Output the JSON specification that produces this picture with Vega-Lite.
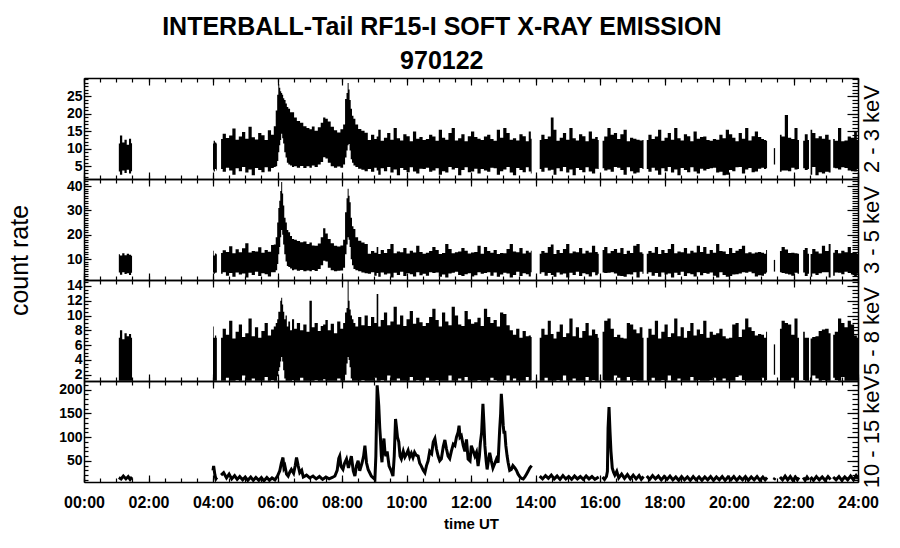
{
"$schema": "https://vega.github.io/schema/vega-lite/v6.json",
"padding": {"left": 7, "top": 15, "right": 10, "bottom": 10},
"background": "white",
"title": {"text": ["INTERBALL-Tail RF15-I SOFT X-RAY EMISSION", "970122"], "font": "Liberation Sans", "fontSize": 25, "fontWeight": "bold", "color": "#000", "lineHeight": 34, "anchor": "middle", "dx": -3, "offset": 3},
"config": {
  "view": {"stroke": null},
  "axis": {"grid": false, "domainColor": "#000", "tickColor": "#000", "domainWidth": 1.5, "tickWidth": 1.2, "labelColor": "#000", "labelFont": "Liberation Sans", "labelFontWeight": "bold", "labelFontSize": 14, "labelFlush": false, "labelOverlap": false, "titleColor": "#000", "titleFont": "Liberation Sans", "titleFontWeight": "normal"}
},
"datasets": {
"soft": [
{"t":1.08,"s":1,"a0":3.5,"a1":11.5,"b0":4.5,"b1":12,"c0":1.2,"c1":7},
{"t":1.15,"s":1,"a0":2.6,"a1":13.8,"b0":3.6,"b1":11.5,"c0":1.2,"c1":8},
{"t":1.22,"s":1,"a0":3.8,"a1":11.8,"b0":4.6,"b1":12.4,"c0":1.2,"c1":6.8},
{"t":1.29,"s":1,"a0":3.1,"a1":12.6,"b0":3.9,"b1":11.6,"c0":1.2,"c1":7.6},
{"t":1.36,"s":1,"a0":4,"a1":11.2,"b0":4.2,"b1":12.2,"c0":1.2,"c1":7.2},
{"t":1.43,"s":1,"a0":2.9,"a1":12.9,"b0":3.5,"b1":11.8,"c0":1.2,"c1":7.5},
{"t":1.49,"s":1,"a0":3.6,"a1":11.6,"b0":4.4,"b1":11.4,"c0":1.2,"c1":7},
{"t":4.0,"s":2,"a0":4,"a1":11.5,"b0":4.5,"b1":13.5,"c0":1.2,"c1":8.5},
{"t":4.04,"s":2,"a0":3.5,"a1":12.3,"b0":4,"b1":11.5,"c0":1.2,"c1":7},
{"t":4.08,"s":2,"a0":4.2,"a1":11.8,"b0":4.4,"b1":12.3,"c0":1.2,"c1":7.3},
{"t":4.12,"s":2,"a0":3.8,"a1":11.5,"b0":4.5,"b1":12,"c0":1.2,"c1":7},
{"t":4.25,"s":3,"a0":4.2,"a1":12.8,"b0":4,"b1":12.5,"c0":1.2,"c1":7},
{"t":4.35,"s":3,"a0":3.4,"a1":14.3,"b0":4.6,"b1":13.7,"c0":1.2,"c1":8.2},
{"t":4.45,"s":3,"a0":4.6,"a1":13.1,"b0":3.2,"b1":12.9,"c0":1.6,"c1":7.4},
{"t":4.55,"s":3,"a0":3.8,"a1":13.8,"b0":4.3,"b1":15.3,"c0":1.2,"c1":9.3},
{"t":4.65,"s":3,"a0":2.6,"a1":15.8,"b0":2.8,"b1":12.4,"c0":1.2,"c1":6.9},
{"t":4.75,"s":3,"a0":4.4,"a1":12.6,"b0":4.5,"b1":14.1,"c0":1.3,"c1":7.8},
{"t":4.85,"s":3,"a0":3.6,"a1":13.5,"b0":3.7,"b1":12.8,"c0":1.2,"c1":8.8},
{"t":4.95,"s":3,"a0":4.8,"a1":14.8,"b0":4.1,"b1":14.5,"c0":1.9,"c1":7.1},
{"t":5.05,"s":3,"a0":3.2,"a1":12.9,"b0":2.5,"b1":16.5,"c0":1.2,"c1":7.6},
{"t":5.15,"s":3,"a0":4.1,"a1":16.3,"b0":4.4,"b1":12.7,"c0":1.2,"c1":9.6},
{"t":5.25,"s":3,"a0":2.4,"a1":13.3,"b0":3.5,"b1":13.4,"c0":1.5,"c1":7.2},
{"t":5.35,"s":3,"a0":4.5,"a1":12.7,"b0":4.8,"b1":13.1,"c0":1.2,"c1":8.4},
{"t":5.45,"s":3,"a0":3.9,"a1":14.5,"b0":3.1,"b1":14.9,"c0":1.2,"c1":7},
{"t":5.55,"s":3,"a0":3.3,"a1":13.9,"b0":4.2,"b1":12.6,"c0":1.2,"c1":7.9},
{"t":5.65,"s":3,"a0":4.7,"a1":12.5,"b0":3.8,"b1":13.8,"c0":1.7,"c1":9},
{"t":5.75,"s":3,"a0":3.5,"a1":15.3,"b0":2.9,"b1":13,"c0":1.2,"c1":7.3},
{"t":5.85,"s":3,"a0":4.5,"a1":14,"b0":4.6,"b1":15.8,"c0":1.3,"c1":8.1},
{"t":5.92,"s":3,"a0":4.8,"a1":16.5,"b0":4.6,"b1":16,"c0":1.2,"c1":8.5},
{"t":5.97,"s":3,"a0":5,"a1":21,"b0":5.5,"b1":19,"c0":1.2,"c1":9},
{"t":6.01,"s":3,"a0":6.5,"a1":25.5,"b0":8,"b1":25,"c0":1.8,"c1":9.5},
{"t":6.04,"s":3,"a0":9,"a1":28.5,"b0":12,"b1":31,"c0":2.5,"c1":10.5},
{"t":6.07,"s":3,"a0":11,"a1":27.5,"b0":15,"b1":34,"c0":3,"c1":10.5},
{"t":6.1,"s":3,"a0":12.5,"a1":26.5,"b0":19,"b1":38,"c0":3.8,"c1":12},
{"t":6.13,"s":3,"a0":14.3,"a1":26,"b0":22,"b1":41.7,"c0":4.4,"c1":12.4},
{"t":6.16,"s":3,"a0":13,"a1":25.5,"b0":20,"b1":37,"c0":3.8,"c1":11.5},
{"t":6.19,"s":3,"a0":11.5,"a1":24.5,"b0":16,"b1":32,"c0":2.6,"c1":10.5},
{"t":6.23,"s":3,"a0":9,"a1":24,"b0":12,"b1":27,"c0":1.5,"c1":9.5},
{"t":6.27,"s":3,"a0":7.5,"a1":23,"b0":9,"b1":25,"c0":1.2,"c1":10},
{"t":6.31,"s":3,"a0":6,"a1":22,"b0":7.2,"b1":22,"c0":1.2,"c1":8.5},
{"t":6.36,"s":3,"a0":5.5,"a1":21.5,"b0":6.8,"b1":21,"c0":1.2,"c1":9.2},
{"t":6.42,"s":3,"a0":5.2,"a1":20.5,"b0":6.2,"b1":19.5,"c0":1.2,"c1":8},
{"t":6.48,"s":3,"a0":4.8,"a1":20.5,"b0":5.5,"b1":18.3,"c0":1.3,"c1":9.5},
{"t":6.55,"s":3,"a0":5,"a1":19,"b0":5.8,"b1":18,"c0":1.2,"c1":8.2},
{"t":6.65,"s":3,"a0":4.6,"a1":18,"b0":5.2,"b1":17.5,"c0":1.2,"c1":9},
{"t":6.75,"s":3,"a0":5.1,"a1":17.5,"b0":5.6,"b1":16.9,"c0":1.6,"c1":8},
{"t":6.85,"s":3,"a0":4.5,"a1":16.5,"b0":5,"b1":17.2,"c0":1.2,"c1":8.8},
{"t":6.95,"s":3,"a0":5,"a1":16,"b0":5.4,"b1":16.2,"c0":1.2,"c1":7.8},
{"t":7.03,"s":3,"a0":4.6,"a1":15.6,"b0":5,"b1":16.8,"c0":1.2,"c1":12},
{"t":7.1,"s":3,"a0":5.2,"a1":16.4,"b0":5.6,"b1":15.6,"c0":1.2,"c1":8.4},
{"t":7.2,"s":3,"a0":4.8,"a1":15.2,"b0":5.1,"b1":15.5,"c0":1.3,"c1":9},
{"t":7.3,"s":3,"a0":5.5,"a1":16.2,"b0":6,"b1":16.4,"c0":1.2,"c1":7.9},
{"t":7.38,"s":3,"a0":6.2,"a1":17.5,"b0":7.5,"b1":19,"c0":1.2,"c1":8.6},
{"t":7.45,"s":3,"a0":7.6,"a1":19,"b0":9.3,"b1":22.7,"c0":1.4,"c1":8.8},
{"t":7.52,"s":3,"a0":7.2,"a1":18.6,"b0":9,"b1":20.5,"c0":1.2,"c1":9.4},
{"t":7.6,"s":3,"a0":6,"a1":17.8,"b0":6.5,"b1":18.3,"c0":1.2,"c1":8},
{"t":7.7,"s":3,"a0":5,"a1":16.3,"b0":5.5,"b1":16.5,"c0":1.2,"c1":8.9},
{"t":7.8,"s":3,"a0":4.6,"a1":15.3,"b0":5,"b1":15.5,"c0":1.2,"c1":7.6},
{"t":7.9,"s":3,"a0":4.9,"a1":14.7,"b0":5.2,"b1":15.2,"c0":1.5,"c1":9.2},
{"t":8.0,"s":3,"a0":4.6,"a1":15.6,"b0":5.3,"b1":15.6,"c0":1.2,"c1":8.2},
{"t":8.07,"s":3,"a0":5.5,"a1":17,"b0":6.5,"b1":18,"c0":1.2,"c1":9},
{"t":8.12,"s":3,"a0":7.5,"a1":24.3,"b0":12,"b1":29.3,"c0":2,"c1":10.4},
{"t":8.16,"s":3,"a0":9.5,"a1":26,"b0":16,"b1":35,"c0":3.5,"c1":11},
{"t":8.19,"s":3,"a0":11,"a1":28.9,"b0":19,"b1":38.9,"c0":4.4,"c1":14.7},
{"t":8.22,"s":3,"a0":11.4,"a1":27,"b0":18,"b1":36,"c0":4,"c1":12},
{"t":8.25,"s":3,"a0":9.5,"a1":24,"b0":15,"b1":33.4,"c0":3,"c1":10.8},
{"t":8.29,"s":3,"a0":7,"a1":21.5,"b0":10,"b1":27,"c0":1.5,"c1":10},
{"t":8.33,"s":3,"a0":6,"a1":19.5,"b0":7.5,"b1":23.5,"c0":1.2,"c1":9.5},
{"t":8.38,"s":3,"a0":5.2,"a1":18.6,"b0":6,"b1":22.4,"c0":1.2,"c1":9},
{"t":8.45,"s":3,"a0":4.8,"a1":17,"b0":5.5,"b1":19,"c0":1.2,"c1":8.5},
{"t":8.55,"s":3,"a0":4.3,"a1":15.7,"b0":5,"b1":17.6,"c0":1.2,"c1":9.8},
{"t":8.65,"s":3,"a0":4,"a1":15.2,"b0":4.5,"b1":16.8,"c0":1.3,"c1":8.7},
{"t":8.75,"s":3,"a0":3.6,"a1":14.6,"b0":4.2,"b1":16.2,"c0":1.2,"c1":10},
{"t":8.85,"s":3,"a0":4.2,"a1":12.5,"b0":4,"b1":12.2,"c0":1.2,"c1":8.6},
{"t":8.95,"s":3,"a0":3.4,"a1":14,"b0":4.6,"b1":13.4,"c0":1.2,"c1":9.8},
{"t":9.05,"s":3,"a0":4.6,"a1":12.8,"b0":3.2,"b1":12.6,"c0":1.6,"c1":9},
{"t":9.1,"s":3,"a0":3.8,"a1":13.5,"b0":4.3,"b1":15,"c0":1.2,"c1":12.9},
{"t":9.15,"s":3,"a0":2.6,"a1":15.5,"b0":2.8,"b1":12.1,"c0":1.2,"c1":8.5},
{"t":9.25,"s":3,"a0":4.4,"a1":12.3,"b0":4.5,"b1":13.8,"c0":1.3,"c1":9.4},
{"t":9.35,"s":3,"a0":3.6,"a1":13.2,"b0":3.7,"b1":12.5,"c0":1.2,"c1":10.4},
{"t":9.45,"s":3,"a0":4.8,"a1":14.5,"b0":4.1,"b1":14.2,"c0":1.9,"c1":8.7},
{"t":9.55,"s":3,"a0":3.2,"a1":12.6,"b0":2.5,"b1":16.2,"c0":1.2,"c1":9.2},
{"t":9.65,"s":3,"a0":4.1,"a1":16,"b0":4.4,"b1":12.4,"c0":1.2,"c1":11.2},
{"t":9.75,"s":3,"a0":2.4,"a1":13,"b0":3.5,"b1":13.1,"c0":1.5,"c1":8.8},
{"t":9.85,"s":3,"a0":4.5,"a1":12.4,"b0":4.8,"b1":12.8,"c0":1.2,"c1":10},
{"t":9.95,"s":3,"a0":3.9,"a1":14.2,"b0":3.1,"b1":14.6,"c0":1.2,"c1":8.6},
{"t":10.05,"s":3,"a0":3.3,"a1":13.6,"b0":4.2,"b1":12.3,"c0":1.2,"c1":9.5},
{"t":10.15,"s":3,"a0":4.7,"a1":12.2,"b0":3.8,"b1":13.5,"c0":1.7,"c1":10.6},
{"t":10.25,"s":3,"a0":3.5,"a1":15,"b0":2.9,"b1":12.7,"c0":1.2,"c1":8.9},
{"t":10.35,"s":3,"a0":2.9,"a1":12.9,"b0":4.6,"b1":15.5,"c0":1.3,"c1":9.7},
{"t":10.45,"s":3,"a0":4.3,"a1":13.4,"b0":3.4,"b1":12.9,"c0":1.2,"c1":9.1},
{"t":10.55,"s":3,"a0":4.2,"a1":12.5,"b0":4,"b1":12.2,"c0":1.2,"c1":8.6},
{"t":10.65,"s":3,"a0":4.6,"a1":12.8,"b0":3.2,"b1":12.6,"c0":1.6,"c1":9},
{"t":10.75,"s":3,"a0":3.4,"a1":14,"b0":4.6,"b1":13.4,"c0":1.2,"c1":9.8},
{"t":10.85,"s":3,"a0":3.8,"a1":13.5,"b0":4.3,"b1":15,"c0":1.2,"c1":10.9},
{"t":10.95,"s":3,"a0":4.4,"a1":12.3,"b0":4.5,"b1":13.8,"c0":1.3,"c1":9.4},
{"t":11.05,"s":3,"a0":2.6,"a1":15.5,"b0":2.8,"b1":12.1,"c0":1.2,"c1":8.5},
{"t":11.15,"s":3,"a0":3.6,"a1":13.2,"b0":3.7,"b1":12.5,"c0":1.2,"c1":10.4},
{"t":11.25,"s":3,"a0":3.2,"a1":12.6,"b0":2.5,"b1":16.2,"c0":1.2,"c1":9.2},
{"t":11.35,"s":3,"a0":4.8,"a1":14.5,"b0":4.1,"b1":14.2,"c0":1.9,"c1":8.7},
{"t":11.45,"s":3,"a0":4.1,"a1":16,"b0":4.4,"b1":12.4,"c0":1.2,"c1":11.2},
{"t":11.55,"s":3,"a0":4.5,"a1":12.4,"b0":4.8,"b1":12.8,"c0":1.2,"c1":10},
{"t":11.65,"s":3,"a0":2.4,"a1":13,"b0":3.5,"b1":13.1,"c0":1.5,"c1":8.8},
{"t":11.75,"s":3,"a0":3.9,"a1":14.2,"b0":3.1,"b1":14.6,"c0":1.2,"c1":8.6},
{"t":11.85,"s":3,"a0":4.7,"a1":12.2,"b0":3.8,"b1":13.5,"c0":1.7,"c1":10.6},
{"t":11.95,"s":3,"a0":3.3,"a1":13.6,"b0":4.2,"b1":12.3,"c0":1.2,"c1":9.5},
{"t":12.05,"s":3,"a0":3.5,"a1":15,"b0":2.9,"b1":12.7,"c0":1.2,"c1":8.9},
{"t":12.15,"s":3,"a0":4.3,"a1":13.4,"b0":3.4,"b1":12.9,"c0":1.2,"c1":9.1},
{"t":12.25,"s":3,"a0":2.9,"a1":12.9,"b0":4.6,"b1":15.5,"c0":1.3,"c1":9.7},
{"t":12.35,"s":3,"a0":4.2,"a1":12.5,"b0":4,"b1":12.2,"c0":1.2,"c1":8.6},
{"t":12.45,"s":3,"a0":3.8,"a1":13.5,"b0":4.3,"b1":15,"c0":1.2,"c1":10.9},
{"t":12.55,"s":3,"a0":3.4,"a1":14,"b0":4.6,"b1":13.4,"c0":1.2,"c1":9.8},
{"t":12.65,"s":3,"a0":4.6,"a1":12.8,"b0":3.2,"b1":12.6,"c0":1.6,"c1":9},
{"t":12.75,"s":3,"a0":4.4,"a1":12.3,"b0":4.5,"b1":13.8,"c0":1.3,"c1":9.4},
{"t":12.85,"s":3,"a0":2.6,"a1":15.5,"b0":2.8,"b1":12.1,"c0":1.2,"c1":8.5},
{"t":12.95,"s":3,"a0":3.6,"a1":13.2,"b0":3.7,"b1":12.5,"c0":1.2,"c1":10.4},
{"t":13.05,"s":3,"a0":4.1,"a1":16,"b0":4.4,"b1":12.4,"c0":1.2,"c1":10.2},
{"t":13.15,"s":3,"a0":4.8,"a1":14.5,"b0":4.1,"b1":14.2,"c0":1.9,"c1":8.7},
{"t":13.25,"s":3,"a0":3.2,"a1":12.6,"b0":2.5,"b1":16.2,"c0":1.2,"c1":8},
{"t":13.35,"s":3,"a0":2.4,"a1":13,"b0":3.5,"b1":13.1,"c0":1.5,"c1":7.4},
{"t":13.45,"s":3,"a0":4.5,"a1":12.4,"b0":4.8,"b1":12.8,"c0":1.2,"c1":8.2},
{"t":13.55,"s":3,"a0":3.9,"a1":14.2,"b0":3.1,"b1":14.6,"c0":1.2,"c1":7},
{"t":13.65,"s":3,"a0":3.3,"a1":13.6,"b0":4.2,"b1":12.3,"c0":1.2,"c1":7.9},
{"t":13.75,"s":3,"a0":4.7,"a1":12.2,"b0":3.8,"b1":13.5,"c0":1.7,"c1":7.2},
{"t":13.83,"s":3,"a0":3.5,"a1":15,"b0":2.9,"b1":12.7,"c0":1.2,"c1":7.3},
{"t":13.88,"s":3,"a0":2.9,"a1":12.9,"b0":4.6,"b1":13.5,"c0":1.3,"c1":7.1},
{"t":14.13,"s":4,"a0":4.2,"a1":12.5,"b0":4,"b1":12.2,"c0":1.2,"c1":7},
{"t":14.23,"s":4,"a0":3.4,"a1":14,"b0":4.6,"b1":13.4,"c0":1.2,"c1":8.2},
{"t":14.33,"s":4,"a0":4.6,"a1":12.8,"b0":3.2,"b1":12.6,"c0":1.6,"c1":7.4},
{"t":14.43,"s":4,"a0":3.8,"a1":13.5,"b0":4.3,"b1":15,"c0":1.2,"c1":9.3},
{"t":14.52,"s":4,"a0":4,"a1":19,"b0":3.5,"b1":16,"c0":1.2,"c1":7.5},
{"t":14.6,"s":4,"a0":2.6,"a1":15.5,"b0":2.8,"b1":12.1,"c0":1.2,"c1":6.9},
{"t":14.7,"s":4,"a0":4.4,"a1":12.3,"b0":4.5,"b1":13.8,"c0":1.3,"c1":7.8},
{"t":14.8,"s":4,"a0":3.6,"a1":13.2,"b0":3.7,"b1":12.5,"c0":1.2,"c1":8.8},
{"t":14.9,"s":4,"a0":4.8,"a1":14.5,"b0":4.1,"b1":14.2,"c0":1.9,"c1":7.1},
{"t":15.0,"s":4,"a0":3.2,"a1":12.6,"b0":2.5,"b1":16.2,"c0":1.2,"c1":7.6},
{"t":15.1,"s":4,"a0":4.1,"a1":16,"b0":4.4,"b1":12.4,"c0":1.2,"c1":9.6},
{"t":15.2,"s":4,"a0":2.4,"a1":13,"b0":3.5,"b1":13.1,"c0":1.5,"c1":7.2},
{"t":15.3,"s":4,"a0":4.5,"a1":12.4,"b0":4.8,"b1":12.8,"c0":1.2,"c1":8.4},
{"t":15.4,"s":4,"a0":3.9,"a1":14.2,"b0":3.1,"b1":14.6,"c0":1.2,"c1":7},
{"t":15.5,"s":4,"a0":3.3,"a1":13.6,"b0":4.2,"b1":12.3,"c0":1.2,"c1":7.9},
{"t":15.6,"s":4,"a0":4.7,"a1":12.2,"b0":3.8,"b1":13.5,"c0":1.7,"c1":9},
{"t":15.7,"s":4,"a0":3.5,"a1":15,"b0":2.9,"b1":12.7,"c0":1.2,"c1":7.3},
{"t":15.8,"s":4,"a0":2.9,"a1":12.9,"b0":4.6,"b1":15.5,"c0":1.3,"c1":8.1},
{"t":15.9,"s":4,"a0":4.3,"a1":13.4,"b0":3.4,"b1":12.9,"c0":1.2,"c1":7.5},
{"t":15.96,"s":4,"a0":4.2,"a1":12.5,"b0":4,"b1":12.2,"c0":1.2,"c1":7},
{"t":16.08,"s":5,"a0":4.4,"a1":12.3,"b0":4.5,"b1":13.8,"c0":1.3,"c1":7.8},
{"t":16.18,"s":5,"a0":3.8,"a1":13.5,"b0":4.3,"b1":15,"c0":1.2,"c1":9.3},
{"t":16.28,"s":5,"a0":4.1,"a1":16,"b0":4.4,"b1":12.4,"c0":1.2,"c1":9.6},
{"t":16.38,"s":5,"a0":3.4,"a1":14,"b0":4.6,"b1":13.4,"c0":1.2,"c1":8.2},
{"t":16.48,"s":5,"a0":4.8,"a1":14.5,"b0":4.1,"b1":14.2,"c0":1.9,"c1":7.1},
{"t":16.58,"s":5,"a0":4.6,"a1":12.8,"b0":3.2,"b1":12.6,"c0":1.6,"c1":7.4},
{"t":16.68,"s":5,"a0":3.9,"a1":14.2,"b0":3.1,"b1":14.6,"c0":1.2,"c1":7},
{"t":16.78,"s":5,"a0":2.6,"a1":15.5,"b0":2.8,"b1":12.1,"c0":1.2,"c1":6.9},
{"t":16.88,"s":5,"a0":4.7,"a1":12.2,"b0":3.8,"b1":13.5,"c0":1.7,"c1":9},
{"t":16.98,"s":5,"a0":3.6,"a1":13.2,"b0":3.7,"b1":12.5,"c0":1.2,"c1":8.8},
{"t":17.08,"s":5,"a0":2.9,"a1":12.9,"b0":4.6,"b1":15.5,"c0":1.3,"c1":8.1},
{"t":17.18,"s":5,"a0":3.2,"a1":12.6,"b0":2.5,"b1":16.2,"c0":1.2,"c1":7.6},
{"t":17.28,"s":5,"a0":4.5,"a1":12.4,"b0":4.8,"b1":12.8,"c0":1.2,"c1":8.4},
{"t":17.35,"s":5,"a0":4.2,"a1":12.5,"b0":4,"b1":12.2,"c0":1.2,"c1":7},
{"t":17.45,"s":6,"a0":4.2,"a1":12.5,"b0":4,"b1":12.2,"c0":1.2,"c1":7},
{"t":17.55,"s":6,"a0":3.4,"a1":14,"b0":4.6,"b1":13.4,"c0":1.2,"c1":8.2},
{"t":17.65,"s":6,"a0":4.6,"a1":12.8,"b0":3.2,"b1":12.6,"c0":1.6,"c1":7.4},
{"t":17.75,"s":6,"a0":3.8,"a1":13.5,"b0":4.3,"b1":15,"c0":1.2,"c1":9.3},
{"t":17.85,"s":6,"a0":2.6,"a1":15.5,"b0":2.8,"b1":12.1,"c0":1.2,"c1":6.9},
{"t":17.95,"s":6,"a0":4.4,"a1":12.3,"b0":4.5,"b1":13.8,"c0":1.3,"c1":7.8},
{"t":18.05,"s":6,"a0":3.6,"a1":13.2,"b0":3.7,"b1":12.5,"c0":1.2,"c1":8.8},
{"t":18.15,"s":6,"a0":4.8,"a1":14.5,"b0":4.1,"b1":14.2,"c0":1.9,"c1":7.1},
{"t":18.25,"s":6,"a0":3.2,"a1":12.6,"b0":2.5,"b1":16.2,"c0":1.2,"c1":7.6},
{"t":18.35,"s":6,"a0":4.1,"a1":16,"b0":4.4,"b1":12.4,"c0":1.2,"c1":9.6},
{"t":18.45,"s":6,"a0":2.4,"a1":13,"b0":3.5,"b1":13.1,"c0":1.5,"c1":7.2},
{"t":18.55,"s":6,"a0":4.5,"a1":12.4,"b0":4.8,"b1":12.8,"c0":1.2,"c1":8.4},
{"t":18.65,"s":6,"a0":3.9,"a1":14.2,"b0":3.1,"b1":14.6,"c0":1.2,"c1":7},
{"t":18.75,"s":6,"a0":3.3,"a1":13.6,"b0":4.2,"b1":12.3,"c0":1.2,"c1":7.9},
{"t":18.85,"s":6,"a0":4.7,"a1":12.2,"b0":3.8,"b1":13.5,"c0":1.7,"c1":9},
{"t":18.95,"s":6,"a0":3.5,"a1":15,"b0":2.9,"b1":12.7,"c0":1.2,"c1":7.3},
{"t":19.05,"s":6,"a0":2.9,"a1":12.9,"b0":4.6,"b1":15.5,"c0":1.3,"c1":8.1},
{"t":19.15,"s":6,"a0":4.3,"a1":13.4,"b0":3.4,"b1":12.9,"c0":1.2,"c1":7.5},
{"t":19.25,"s":6,"a0":3.8,"a1":13.5,"b0":4.3,"b1":15,"c0":1.2,"c1":9.3},
{"t":19.35,"s":6,"a0":4.2,"a1":12.5,"b0":4,"b1":12.2,"c0":1.2,"c1":7},
{"t":19.45,"s":6,"a0":4.4,"a1":12.3,"b0":4.5,"b1":13.8,"c0":1.3,"c1":7.8},
{"t":19.55,"s":6,"a0":4.6,"a1":12.8,"b0":3.2,"b1":12.6,"c0":1.6,"c1":7.4},
{"t":19.65,"s":6,"a0":3.2,"a1":12.6,"b0":2.5,"b1":16.2,"c0":1.2,"c1":7.6},
{"t":19.75,"s":6,"a0":3.4,"a1":14,"b0":4.6,"b1":13.4,"c0":1.2,"c1":8.2},
{"t":19.85,"s":6,"a0":2.4,"a1":13,"b0":3.5,"b1":13.1,"c0":1.5,"c1":7.2},
{"t":19.95,"s":6,"a0":2.6,"a1":15.5,"b0":2.8,"b1":12.1,"c0":1.2,"c1":6.9},
{"t":20.05,"s":6,"a0":3.9,"a1":14.2,"b0":3.1,"b1":14.6,"c0":1.2,"c1":7},
{"t":20.15,"s":6,"a0":3.6,"a1":13.2,"b0":3.7,"b1":12.5,"c0":1.2,"c1":8.8},
{"t":20.25,"s":6,"a0":4.7,"a1":12.2,"b0":3.8,"b1":13.5,"c0":1.7,"c1":9},
{"t":20.35,"s":6,"a0":4.8,"a1":14.5,"b0":4.1,"b1":14.2,"c0":1.9,"c1":7.1},
{"t":20.45,"s":6,"a0":2.9,"a1":12.9,"b0":4.6,"b1":15.5,"c0":1.3,"c1":8.1},
{"t":20.55,"s":6,"a0":4.1,"a1":16,"b0":4.4,"b1":12.4,"c0":1.2,"c1":9.6},
{"t":20.65,"s":6,"a0":4.5,"a1":12.4,"b0":4.8,"b1":12.8,"c0":1.2,"c1":8.4},
{"t":20.75,"s":6,"a0":3.3,"a1":13.6,"b0":4.2,"b1":12.3,"c0":1.2,"c1":7.9},
{"t":20.85,"s":6,"a0":3.5,"a1":15,"b0":2.9,"b1":12.7,"c0":1.2,"c1":7.3},
{"t":20.95,"s":6,"a0":4.3,"a1":13.4,"b0":3.4,"b1":12.9,"c0":1.2,"c1":7.5},
{"t":21.05,"s":6,"a0":4.6,"a1":12.8,"b0":3.2,"b1":12.6,"c0":1.6,"c1":7.4},
{"t":21.12,"s":6,"a0":4.2,"a1":12.5,"b0":4,"b1":12.2,"c0":1.2,"c1":7},
{"t":21.18,"s":6,"a0":4.4,"a1":12.3,"b0":4.5,"b1":13.8,"c0":1.3,"c1":7.8},
{"t":21.39,"s":7,"a0":5.5,"a1":10.2,"b0":4.9,"b1":9.7,"c0":2,"c1":6.1},
{"t":21.43,"s":7,"a0":5.5,"a1":10.2,"b0":4.9,"b1":9.7,"c0":2,"c1":6.1},
{"t":21.58,"s":8,"a0":3.4,"a1":14,"b0":4.6,"b1":13.4,"c0":1.2,"c1":8.2},
{"t":21.68,"s":8,"a0":3.8,"a1":13.5,"b0":4.3,"b1":15,"c0":1.2,"c1":9.3},
{"t":21.78,"s":8,"a0":3.8,"a1":19.7,"b0":4,"b1":14,"c0":1.2,"c1":9},
{"t":21.88,"s":8,"a0":3.6,"a1":13.2,"b0":3.7,"b1":12.5,"c0":1.2,"c1":8.8},
{"t":21.98,"s":8,"a0":4.6,"a1":12.8,"b0":3.2,"b1":12.6,"c0":1.6,"c1":7.4},
{"t":22.08,"s":8,"a0":4.1,"a1":16,"b0":4.4,"b1":12.4,"c0":1.2,"c1":9.6},
{"t":22.17,"s":8,"a0":4.2,"a1":12.5,"b0":4,"b1":12.2,"c0":1.2,"c1":7},
{"t":22.3,"s":9,"a0":4.4,"a1":12.3,"b0":4.5,"b1":13.8,"c0":1.3,"c1":7.8},
{"t":22.4,"s":9,"a0":3.9,"a1":14.2,"b0":3.1,"b1":14.6,"c0":1.2,"c1":7},
{"t":22.48,"s":9,"a0":4.2,"a1":12.5,"b0":4,"b1":12.2,"c0":1.2,"c1":7},
{"t":22.53,"s":10,"a0":2.6,"a1":15.5,"b0":2.8,"b1":12.1,"c0":1.2,"c1":6.9},
{"t":22.63,"s":10,"a0":4.8,"a1":14.5,"b0":4.1,"b1":14.2,"c0":1.9,"c1":7.1},
{"t":22.73,"s":10,"a0":2.4,"a1":13,"b0":3.5,"b1":13.1,"c0":1.5,"c1":7.2},
{"t":22.83,"s":10,"a0":3.3,"a1":13.6,"b0":4.2,"b1":12.3,"c0":1.2,"c1":7.9},
{"t":22.93,"s":10,"a0":2.9,"a1":12.9,"b0":4.6,"b1":15.5,"c0":1.3,"c1":8.1},
{"t":23.03,"s":10,"a0":3.4,"a1":14,"b0":4.6,"b1":13.4,"c0":1.2,"c1":8.2},
{"t":23.15,"s":10,"a0":3.2,"a1":12.6,"b0":2.5,"b1":16.2,"c0":1.2,"c1":7.6},
{"t":23.23,"s":11,"a0":4.6,"a1":12.8,"b0":3.2,"b1":12.6,"c0":1.6,"c1":7.4},
{"t":23.33,"s":11,"a0":4.4,"a1":12.3,"b0":4.5,"b1":13.8,"c0":1.3,"c1":7.8},
{"t":23.43,"s":11,"a0":4.1,"a1":16,"b0":4.4,"b1":12.4,"c0":1.2,"c1":9.6},
{"t":23.53,"s":11,"a0":4.7,"a1":12.2,"b0":3.8,"b1":13.5,"c0":1.7,"c1":9},
{"t":23.63,"s":11,"a0":4.5,"a1":12.4,"b0":4.8,"b1":12.8,"c0":1.2,"c1":8.4},
{"t":23.73,"s":11,"a0":3.8,"a1":13.5,"b0":4.3,"b1":15,"c0":1.2,"c1":9.3},
{"t":23.83,"s":11,"a0":3.6,"a1":13.2,"b0":3.7,"b1":12.5,"c0":1.2,"c1":8.8},
{"t":23.93,"s":11,"a0":3.5,"a1":15,"b0":2.9,"b1":12.7,"c0":1.2,"c1":7.3},
{"t":24.0,"s":11,"a0":4.2,"a1":12.5,"b0":4,"b1":12.2,"c0":1.2,"c1":7}
],
"hard": [
{"t":1.08,"s":1,"v":15},{"t":1.15,"s":1,"v":12},{"t":1.22,"s":1,"v":18},{"t":1.3,"s":1,"v":12},{"t":1.37,"s":1,"v":17},{"t":1.43,"s":1,"v":11},{"t":1.49,"s":1,"v":16},
{"t":4.0,"s":2,"v":30},{"t":4.02,"s":2,"v":39},{"t":4.06,"s":2,"v":20},{"t":4.09,"s":2,"v":12},{"t":4.12,"s":2,"v":15},
{"t":4.25,"s":3,"v":20},{"t":4.33,"s":3,"v":25},{"t":4.42,"s":3,"v":14},{"t":4.5,"s":3,"v":22},{"t":4.58,"s":3,"v":12},{"t":4.67,"s":3,"v":19},{"t":4.75,"s":3,"v":11},{"t":4.83,"s":3,"v":17},{"t":4.92,"s":3,"v":10},{"t":5.0,"s":3,"v":16},{"t":5.08,"s":3,"v":9},{"t":5.17,"s":3,"v":16},{"t":5.25,"s":3,"v":9},{"t":5.33,"s":3,"v":15},{"t":5.42,"s":3,"v":9},{"t":5.5,"s":3,"v":15},{"t":5.58,"s":3,"v":8},{"t":5.67,"s":3,"v":15},{"t":5.75,"s":3,"v":9},{"t":5.83,"s":3,"v":14},{"t":5.92,"s":3,"v":10},{"t":6.0,"s":3,"v":18},{"t":6.07,"s":3,"v":29},{"t":6.12,"s":3,"v":45},{"t":6.17,"s":3,"v":57},{"t":6.2,"s":3,"v":35},{"t":6.23,"s":3,"v":39},{"t":6.28,"s":3,"v":22},{"t":6.33,"s":3,"v":18},{"t":6.38,"s":3,"v":26},{"t":6.43,"s":3,"v":32},{"t":6.5,"s":3,"v":24},{"t":6.55,"s":3,"v":40},{"t":6.59,"s":3,"v":57},{"t":6.64,"s":3,"v":40},{"t":6.69,"s":3,"v":25},{"t":6.75,"s":3,"v":30},{"t":6.8,"s":3,"v":16},{"t":6.9,"s":3,"v":20},{"t":7.0,"s":3,"v":14},{"t":7.1,"s":3,"v":18},{"t":7.2,"s":3,"v":12},{"t":7.3,"s":3,"v":17},{"t":7.4,"s":3,"v":11},{"t":7.5,"s":3,"v":16},{"t":7.6,"s":3,"v":12},{"t":7.7,"s":3,"v":15},{"t":7.78,"s":3,"v":18},{"t":7.85,"s":3,"v":30},{"t":7.9,"s":3,"v":55},{"t":7.93,"s":3,"v":60},{"t":7.97,"s":3,"v":38},{"t":8.03,"s":3,"v":32},{"t":8.08,"s":3,"v":45},{"t":8.14,"s":3,"v":54},{"t":8.2,"s":3,"v":35},{"t":8.24,"s":3,"v":46},{"t":8.29,"s":3,"v":60},{"t":8.35,"s":3,"v":29},{"t":8.4,"s":3,"v":18},{"t":8.45,"s":3,"v":40},{"t":8.5,"s":3,"v":50},{"t":8.55,"s":3,"v":29},{"t":8.62,"s":3,"v":45},{"t":8.67,"s":3,"v":60},{"t":8.71,"s":3,"v":82},{"t":8.76,"s":3,"v":46},{"t":8.81,"s":3,"v":32},{"t":8.86,"s":3,"v":25},{"t":8.91,"s":3,"v":18},{"t":8.97,"s":3,"v":14},{"t":9.02,"s":3,"v":11},{"t":9.05,"s":3,"v":60},{"t":9.09,"s":3,"v":209},{"t":9.12,"s":3,"v":185},{"t":9.14,"s":3,"v":166},{"t":9.17,"s":3,"v":120},{"t":9.19,"s":3,"v":100},{"t":9.22,"s":3,"v":60},{"t":9.24,"s":3,"v":47},{"t":9.27,"s":3,"v":80},{"t":9.3,"s":3,"v":97},{"t":9.33,"s":3,"v":70},{"t":9.36,"s":3,"v":60},{"t":9.4,"s":3,"v":70},{"t":9.46,"s":3,"v":39},{"t":9.52,"s":3,"v":30},{"t":9.58,"s":3,"v":18},{"t":9.62,"s":3,"v":60},{"t":9.66,"s":3,"v":138},{"t":9.69,"s":3,"v":120},{"t":9.72,"s":3,"v":100},{"t":9.76,"s":3,"v":90},{"t":9.8,"s":3,"v":60},{"t":9.84,"s":3,"v":54},{"t":9.9,"s":3,"v":70},{"t":9.95,"s":3,"v":58},{"t":10.0,"s":3,"v":64},{"t":10.05,"s":3,"v":72},{"t":10.1,"s":3,"v":58},{"t":10.15,"s":3,"v":66},{"t":10.2,"s":3,"v":57},{"t":10.25,"s":3,"v":68},{"t":10.3,"s":3,"v":62},{"t":10.36,"s":3,"v":60},{"t":10.41,"s":3,"v":45},{"t":10.46,"s":3,"v":39},{"t":10.52,"s":3,"v":30},{"t":10.57,"s":3,"v":25},{"t":10.62,"s":3,"v":40},{"t":10.67,"s":3,"v":50},{"t":10.72,"s":3,"v":70},{"t":10.78,"s":3,"v":65},{"t":10.83,"s":3,"v":90},{"t":10.88,"s":3,"v":97},{"t":10.93,"s":3,"v":75},{"t":10.98,"s":3,"v":60},{"t":11.03,"s":3,"v":50},{"t":11.08,"s":3,"v":54},{"t":11.14,"s":3,"v":80},{"t":11.19,"s":3,"v":94},{"t":11.24,"s":3,"v":75},{"t":11.29,"s":3,"v":60},{"t":11.34,"s":3,"v":55},{"t":11.39,"s":3,"v":70},{"t":11.45,"s":3,"v":85},{"t":11.5,"s":3,"v":82},{"t":11.55,"s":3,"v":100},{"t":11.6,"s":3,"v":110},{"t":11.63,"s":3,"v":124},{"t":11.66,"s":3,"v":100},{"t":11.7,"s":3,"v":103},{"t":11.76,"s":3,"v":82},{"t":11.81,"s":3,"v":70},{"t":11.86,"s":3,"v":95},{"t":11.91,"s":3,"v":54},{"t":11.97,"s":3,"v":50},{"t":12.01,"s":3,"v":82},{"t":12.07,"s":3,"v":70},{"t":12.12,"s":3,"v":60},{"t":12.17,"s":3,"v":68},{"t":12.22,"s":3,"v":39},{"t":12.26,"s":3,"v":60},{"t":12.29,"s":3,"v":88},{"t":12.33,"s":3,"v":110},{"t":12.37,"s":3,"v":170},{"t":12.4,"s":3,"v":130},{"t":12.43,"s":3,"v":82},{"t":12.47,"s":3,"v":50},{"t":12.5,"s":3,"v":32},{"t":12.54,"s":3,"v":50},{"t":12.58,"s":3,"v":67},{"t":12.63,"s":3,"v":50},{"t":12.68,"s":3,"v":35},{"t":12.74,"s":3,"v":45},{"t":12.79,"s":3,"v":54},{"t":12.84,"s":3,"v":46},{"t":12.89,"s":3,"v":117},{"t":12.92,"s":3,"v":150},{"t":12.94,"s":3,"v":191},{"t":12.97,"s":3,"v":160},{"t":13.0,"s":3,"v":124},{"t":13.02,"s":3,"v":110},{"t":13.05,"s":3,"v":110},{"t":13.08,"s":3,"v":82},{"t":13.12,"s":3,"v":60},{"t":13.15,"s":3,"v":47},{"t":13.2,"s":3,"v":30},{"t":13.25,"s":3,"v":32},{"t":13.3,"s":3,"v":40},{"t":13.36,"s":3,"v":35},{"t":13.41,"s":3,"v":30},{"t":13.46,"s":3,"v":22},{"t":13.52,"s":3,"v":16},{"t":13.57,"s":3,"v":13},{"t":13.62,"s":3,"v":12},{"t":13.67,"s":3,"v":16},{"t":13.72,"s":3,"v":22},{"t":13.77,"s":3,"v":28},{"t":13.82,"s":3,"v":35},{"t":13.88,"s":3,"v":40},
{"t":14.13,"s":4,"v":18},{"t":14.22,"s":4,"v":12},{"t":14.31,"s":4,"v":19},{"t":14.4,"s":4,"v":13},{"t":14.49,"s":4,"v":20},{"t":14.58,"s":4,"v":12},{"t":14.67,"s":4,"v":18},{"t":14.76,"s":4,"v":11},{"t":14.85,"s":4,"v":19},{"t":14.94,"s":4,"v":12},{"t":15.03,"s":4,"v":17},{"t":15.12,"s":4,"v":11},{"t":15.21,"s":4,"v":18},{"t":15.3,"s":4,"v":12},{"t":15.39,"s":4,"v":17},{"t":15.48,"s":4,"v":11},{"t":15.57,"s":4,"v":18},{"t":15.66,"s":4,"v":12},{"t":15.75,"s":4,"v":17},{"t":15.84,"s":4,"v":11},{"t":15.96,"s":4,"v":16},
{"t":16.08,"s":5,"v":16},{"t":16.14,"s":5,"v":11},{"t":16.2,"s":5,"v":17},{"t":16.23,"s":5,"v":28},{"t":16.25,"s":5,"v":119},{"t":16.28,"s":5,"v":163},{"t":16.31,"s":5,"v":112},{"t":16.34,"s":5,"v":70},{"t":16.38,"s":5,"v":35},{"t":16.42,"s":5,"v":26},{"t":16.46,"s":5,"v":20},{"t":16.52,"s":5,"v":28},{"t":16.58,"s":5,"v":14},{"t":16.67,"s":5,"v":22},{"t":16.76,"s":5,"v":13},{"t":16.85,"s":5,"v":21},{"t":16.94,"s":5,"v":12},{"t":17.03,"s":5,"v":20},{"t":17.12,"s":5,"v":12},{"t":17.21,"s":5,"v":19},{"t":17.28,"s":5,"v":11},{"t":17.35,"s":5,"v":17},
{"t":17.45,"s":6,"v":18},{"t":17.54,"s":6,"v":11},{"t":17.63,"s":6,"v":19},{"t":17.72,"s":6,"v":12},{"t":17.81,"s":6,"v":18},{"t":17.9,"s":6,"v":10},{"t":17.99,"s":6,"v":17},{"t":18.08,"s":6,"v":11},{"t":18.17,"s":6,"v":18},{"t":18.26,"s":6,"v":10},{"t":18.35,"s":6,"v":16},{"t":18.44,"s":6,"v":9},{"t":18.53,"s":6,"v":17},{"t":18.62,"s":6,"v":10},{"t":18.71,"s":6,"v":16},{"t":18.8,"s":6,"v":9},{"t":18.89,"s":6,"v":17},{"t":18.98,"s":6,"v":10},{"t":19.07,"s":6,"v":16},{"t":19.16,"s":6,"v":9},{"t":19.25,"s":6,"v":16},{"t":19.34,"s":6,"v":10},{"t":19.43,"s":6,"v":17},{"t":19.52,"s":6,"v":9},{"t":19.61,"s":6,"v":16},{"t":19.7,"s":6,"v":10},{"t":19.79,"s":6,"v":17},{"t":19.88,"s":6,"v":9},{"t":19.97,"s":6,"v":16},{"t":20.06,"s":6,"v":10},{"t":20.15,"s":6,"v":17},{"t":20.24,"s":6,"v":9},{"t":20.33,"s":6,"v":16},{"t":20.42,"s":6,"v":10},{"t":20.51,"s":6,"v":17},{"t":20.6,"s":6,"v":9},{"t":20.69,"s":6,"v":16},{"t":20.78,"s":6,"v":10},{"t":20.87,"s":6,"v":17},{"t":20.96,"s":6,"v":9},{"t":21.05,"s":6,"v":16},{"t":21.12,"s":6,"v":10},{"t":21.18,"s":6,"v":15},
{"t":21.39,"s":7,"v":10},{"t":21.43,"s":7,"v":14},
{"t":21.58,"s":8,"v":16},{"t":21.66,"s":8,"v":10},{"t":21.74,"s":8,"v":18},{"t":21.82,"s":8,"v":10},{"t":21.9,"s":8,"v":17},{"t":21.98,"s":8,"v":9},{"t":22.06,"s":8,"v":16},{"t":22.12,"s":8,"v":10},{"t":22.17,"s":8,"v":15},
{"t":22.3,"s":9,"v":15},{"t":22.36,"s":9,"v":9},{"t":22.42,"s":9,"v":16},{"t":22.48,"s":9,"v":10},
{"t":22.53,"s":10,"v":16},{"t":22.62,"s":10,"v":9},{"t":22.71,"s":10,"v":17},{"t":22.8,"s":10,"v":10},{"t":22.89,"s":10,"v":16},{"t":22.98,"s":10,"v":9},{"t":23.07,"s":10,"v":17},{"t":23.15,"s":10,"v":11},
{"t":23.23,"s":11,"v":16},{"t":23.32,"s":11,"v":10},{"t":23.41,"s":11,"v":17},{"t":23.5,"s":11,"v":9},{"t":23.59,"s":11,"v":16},{"t":23.68,"s":11,"v":10},{"t":23.77,"s":11,"v":18},{"t":23.86,"s":11,"v":10},{"t":23.94,"s":11,"v":19},{"t":24.0,"s":11,"v":12}
]
},
"spacing": 0,
"bounds": "flush",
"vconcat": [
{
"width": 774, "height": 101,
"data": {"name": "soft"},
"resolve": {"axis": {"x": "independent", "y": "independent"}},
"layer": [
{"mark": {"type": "area", "color": "#000", "interpolate": "step", "clip": true},
 "encoding": {
  "x": {"field": "t", "type": "quantitative", "scale": {"domain": [0, 24], "nice": false, "zero": false}, "axis": {"orient": "bottom", "values": [0,2,4,6,8,10,12,14,16,18,20,22,24], "tickSize": -7, "labels": false, "title": null}},
  "y": {"field": "a1", "type": "quantitative", "scale": {"domain": [1.35, 30.3], "nice": false, "zero": false}, "axis": {"orient": "left", "values": [5,10,15,20,25], "tickSize": -7, "labelPadding": 9, "title": null}},
  "y2": {"field": "a0"}, "detail": {"field": "s"}}},
{"mark": {"type": "area", "color": "#000", "fillOpacity": 0, "clip": true},
 "encoding": {
  "x": {"field": "t", "type": "quantitative", "scale": {"domain": [0, 24], "nice": false, "zero": false}, "axis": {"orient": "bottom", "values": [0,0.5,1,1.5,2,2.5,3,3.5,4,4.5,5,5.5,6,6.5,7,7.5,8,8.5,9,9.5,10,10.5,11,11.5,12,12.5,13,13.5,14,14.5,15,15.5,16,16.5,17,17.5,18,18.5,19,19.5,20,20.5,21,21.5,22,22.5,23,23.5,24], "tickSize": -4, "labels": false, "domain": false, "title": null}},
  "y": {"field": "a1", "type": "quantitative", "scale": {"domain": [1.35, 30.3], "nice": false, "zero": false}, "axis": {"orient": "left", "values": [2,3,4,5,6,7,8,9,10,11,12,13,14,15,16,17,18,19,20,21,22,23,24,25,26,27,28,29,30], "tickSize": -4, "labels": false, "domain": false, "title": null}},
  "y2": {"field": "a0"}, "detail": {"field": "s"}}},
{"mark": {"type": "area", "color": "#000", "fillOpacity": 0, "clip": true},
 "encoding": {
  "x": {"field": "t", "type": "quantitative", "scale": {"domain": [0, 24], "nice": false, "zero": false}, "axis": {"orient": "top", "values": [0,2,4,6,8,10,12,14,16,18,20,22,24], "tickSize": -7, "labels": false, "title": null}},
  "y": {"field": "a1", "type": "quantitative", "scale": {"domain": [1.35, 30.3], "nice": false, "zero": false}, "axis": {"orient": "right", "values": [5,10,15,20,25], "tickSize": -11, "labels": false, "title": "2 - 3 keV", "titleAngle": 270, "titleBaseline": "top", "titleFontSize": 22, "titlePadding": 3}},
  "y2": {"field": "a0"}, "detail": {"field": "s"}}},
{"mark": {"type": "area", "color": "#000", "fillOpacity": 0, "clip": true},
 "encoding": {
  "x": {"field": "t", "type": "quantitative", "scale": {"domain": [0, 24], "nice": false, "zero": false}, "axis": {"orient": "top", "values": [0,0.5,1,1.5,2,2.5,3,3.5,4,4.5,5,5.5,6,6.5,7,7.5,8,8.5,9,9.5,10,10.5,11,11.5,12,12.5,13,13.5,14,14.5,15,15.5,16,16.5,17,17.5,18,18.5,19,19.5,20,20.5,21,21.5,22,22.5,23,23.5,24], "tickSize": -4, "labels": false, "domain": false, "title": null}},
  "y": {"field": "a1", "type": "quantitative", "scale": {"domain": [1.35, 30.3], "nice": false, "zero": false}, "axis": {"orient": "right", "values": [2,3,4,5,6,7,8,9,10,11,12,13,14,15,16,17,18,19,20,21,22,23,24,25,26,27,28,29,30], "tickSize": -6, "labels": false, "domain": false, "title": null}},
  "y2": {"field": "a0"}, "detail": {"field": "s"}}}
]
},
{
"width": 774, "height": 101,
"data": {"name": "soft"},
"resolve": {"axis": {"x": "independent", "y": "independent"}},
"layer": [
{"mark": {"type": "area", "color": "#000", "interpolate": "step", "clip": true},
 "encoding": {
  "x": {"field": "t", "type": "quantitative", "scale": {"domain": [0, 24], "nice": false, "zero": false}, "axis": {"orient": "bottom", "values": [0,2,4,6,8,10,12,14,16,18,20,22,24], "tickSize": -7, "labels": false, "title": null}},
  "y": {"field": "b1", "type": "quantitative", "scale": {"domain": [1.45, 42.9], "nice": false, "zero": false}, "axis": {"orient": "left", "values": [10,20,30,40], "tickSize": -7, "labelPadding": 9, "title": "count rate", "titleFontSize": 25, "titleX": -52, "titleY": 81}},
  "y2": {"field": "b0"}, "detail": {"field": "s"}}},
{"mark": {"type": "area", "color": "#000", "fillOpacity": 0, "clip": true},
 "encoding": {
  "x": {"field": "t", "type": "quantitative", "scale": {"domain": [0, 24], "nice": false, "zero": false}, "axis": {"orient": "bottom", "values": [0,0.5,1,1.5,2,2.5,3,3.5,4,4.5,5,5.5,6,6.5,7,7.5,8,8.5,9,9.5,10,10.5,11,11.5,12,12.5,13,13.5,14,14.5,15,15.5,16,16.5,17,17.5,18,18.5,19,19.5,20,20.5,21,21.5,22,22.5,23,23.5,24], "tickSize": -4, "labels": false, "domain": false, "title": null}},
  "y": {"field": "b1", "type": "quantitative", "scale": {"domain": [1.45, 42.9], "nice": false, "zero": false}, "axis": {"orient": "left", "values": [2,3,4,5,6,7,8,9,10,11,12,13,14,15,16,17,18,19,20,21,22,23,24,25,26,27,28,29,30,31,32,33,34,35,36,37,38,39,40,41,42], "tickSize": -4, "labels": false, "domain": false, "title": null}},
  "y2": {"field": "b0"}, "detail": {"field": "s"}}},
{"mark": {"type": "area", "color": "#000", "fillOpacity": 0, "clip": true},
 "encoding": {
  "x": {"field": "t", "type": "quantitative", "scale": {"domain": [0, 24], "nice": false, "zero": false}, "axis": {"orient": "top", "values": [0,2,4,6,8,10,12,14,16,18,20,22,24], "tickSize": -7, "labels": false, "title": null}},
  "y": {"field": "b1", "type": "quantitative", "scale": {"domain": [1.45, 42.9], "nice": false, "zero": false}, "axis": {"orient": "right", "values": [10,20,30,40], "tickSize": -11, "labels": false, "title": "3 - 5 keV", "titleAngle": 270, "titleBaseline": "top", "titleFontSize": 22, "titlePadding": 3}},
  "y2": {"field": "b0"}, "detail": {"field": "s"}}},
{"mark": {"type": "area", "color": "#000", "fillOpacity": 0, "clip": true},
 "encoding": {
  "x": {"field": "t", "type": "quantitative", "scale": {"domain": [0, 24], "nice": false, "zero": false}, "axis": {"orient": "top", "values": [0,0.5,1,1.5,2,2.5,3,3.5,4,4.5,5,5.5,6,6.5,7,7.5,8,8.5,9,9.5,10,10.5,11,11.5,12,12.5,13,13.5,14,14.5,15,15.5,16,16.5,17,17.5,18,18.5,19,19.5,20,20.5,21,21.5,22,22.5,23,23.5,24], "tickSize": -4, "labels": false, "domain": false, "title": null}},
  "y": {"field": "b1", "type": "quantitative", "scale": {"domain": [1.45, 42.9], "nice": false, "zero": false}, "axis": {"orient": "right", "values": [2,3,4,5,6,7,8,9,10,11,12,13,14,15,16,17,18,19,20,21,22,23,24,25,26,27,28,29,30,31,32,33,34,35,36,37,38,39,40,41,42], "tickSize": -6, "labels": false, "domain": false, "title": null}},
  "y2": {"field": "b0"}, "detail": {"field": "s"}}}
]
},
{
"width": 774, "height": 101,
"data": {"name": "soft"},
"resolve": {"axis": {"x": "independent", "y": "independent"}},
"layer": [
{"mark": {"type": "area", "color": "#000", "interpolate": "step", "clip": true},
 "encoding": {
  "x": {"field": "t", "type": "quantitative", "scale": {"domain": [0, 24], "nice": false, "zero": false}, "axis": {"orient": "bottom", "values": [0,2,4,6,8,10,12,14,16,18,20,22,24], "tickSize": -7, "labels": false, "title": null}},
  "y": {"field": "c1", "type": "quantitative", "scale": {"domain": [1.15, 14.8], "nice": false, "zero": false}, "axis": {"orient": "left", "values": [2,4,6,8,10,12,14], "tickSize": -7, "labelPadding": 9, "title": null}},
  "y2": {"field": "c0"}, "detail": {"field": "s"}}},
{"mark": {"type": "area", "color": "#000", "fillOpacity": 0, "clip": true},
 "encoding": {
  "x": {"field": "t", "type": "quantitative", "scale": {"domain": [0, 24], "nice": false, "zero": false}, "axis": {"orient": "bottom", "values": [0,0.5,1,1.5,2,2.5,3,3.5,4,4.5,5,5.5,6,6.5,7,7.5,8,8.5,9,9.5,10,10.5,11,11.5,12,12.5,13,13.5,14,14.5,15,15.5,16,16.5,17,17.5,18,18.5,19,19.5,20,20.5,21,21.5,22,22.5,23,23.5,24], "tickSize": -4, "labels": false, "domain": false, "title": null}},
  "y": {"field": "c1", "type": "quantitative", "scale": {"domain": [1.15, 14.8], "nice": false, "zero": false}, "axis": {"orient": "left", "values": [1.5,2,2.5,3,3.5,4,4.5,5,5.5,6,6.5,7,7.5,8,8.5,9,9.5,10,10.5,11,11.5,12,12.5,13,13.5,14,14.5], "tickSize": -4, "labels": false, "domain": false, "title": null}},
  "y2": {"field": "c0"}, "detail": {"field": "s"}}},
{"mark": {"type": "area", "color": "#000", "fillOpacity": 0, "clip": true},
 "encoding": {
  "x": {"field": "t", "type": "quantitative", "scale": {"domain": [0, 24], "nice": false, "zero": false}, "axis": {"orient": "top", "values": [0,2,4,6,8,10,12,14,16,18,20,22,24], "tickSize": -7, "labels": false, "title": null}},
  "y": {"field": "c1", "type": "quantitative", "scale": {"domain": [1.15, 14.8], "nice": false, "zero": false}, "axis": {"orient": "right", "values": [2,4,6,8,10,12,14], "tickSize": -11, "labels": false, "title": "5 - 8 keV", "titleAngle": 270, "titleBaseline": "top", "titleFontSize": 22, "titlePadding": 3}},
  "y2": {"field": "c0"}, "detail": {"field": "s"}}},
{"mark": {"type": "area", "color": "#000", "fillOpacity": 0, "clip": true},
 "encoding": {
  "x": {"field": "t", "type": "quantitative", "scale": {"domain": [0, 24], "nice": false, "zero": false}, "axis": {"orient": "top", "values": [0,0.5,1,1.5,2,2.5,3,3.5,4,4.5,5,5.5,6,6.5,7,7.5,8,8.5,9,9.5,10,10.5,11,11.5,12,12.5,13,13.5,14,14.5,15,15.5,16,16.5,17,17.5,18,18.5,19,19.5,20,20.5,21,21.5,22,22.5,23,23.5,24], "tickSize": -4, "labels": false, "domain": false, "title": null}},
  "y": {"field": "c1", "type": "quantitative", "scale": {"domain": [1.15, 14.8], "nice": false, "zero": false}, "axis": {"orient": "right", "values": [1.5,2,2.5,3,3.5,4,4.5,5,5.5,6,6.5,7,7.5,8,8.5,9,9.5,10,10.5,11,11.5,12,12.5,13,13.5,14,14.5], "tickSize": -6, "labels": false, "domain": false, "title": null}},
  "y2": {"field": "c0"}, "detail": {"field": "s"}}}
]
},
{
"width": 774, "height": 101,
"data": {"name": "hard"},
"resolve": {"axis": {"x": "independent", "y": "independent"}},
"layer": [
{"mark": {"type": "line", "color": "#000", "strokeWidth": 3, "clip": true},
 "encoding": {
  "x": {"field": "t", "type": "quantitative", "scale": {"domain": [0, 24], "nice": false, "zero": false}, "axis": {"orient": "bottom", "values": [0,2,4,6,8,10,12,14,16,18,20,22,24], "tickSize": -7, "labelPadding": 19, "labelFontSize": 16, "labelExpr": "(datum.value < 10 ? '0' : '') + datum.value + ':00'", "title": "time UT", "titleFontSize": 15, "titleFontWeight": "bold", "titlePadding": 6}},
  "y": {"field": "v", "type": "quantitative", "scale": {"domain": [5.5, 218], "nice": false, "zero": false}, "axis": {"orient": "left", "values": [50,100,150,200], "tickSize": -7, "labelPadding": 9, "title": null}},
  "detail": {"field": "s"}}},
{"mark": {"type": "line", "color": "#000", "strokeOpacity": 0, "clip": true},
 "encoding": {
  "x": {"field": "t", "type": "quantitative", "scale": {"domain": [0, 24], "nice": false, "zero": false}, "axis": {"orient": "bottom", "values": [0,0.5,1,1.5,2,2.5,3,3.5,4,4.5,5,5.5,6,6.5,7,7.5,8,8.5,9,9.5,10,10.5,11,11.5,12,12.5,13,13.5,14,14.5,15,15.5,16,16.5,17,17.5,18,18.5,19,19.5,20,20.5,21,21.5,22,22.5,23,23.5,24], "tickSize": -4, "labels": false, "domain": false, "title": null}},
  "y": {"field": "v", "type": "quantitative", "scale": {"domain": [5.5, 218], "nice": false, "zero": false}, "axis": {"orient": "left", "values": [10,20,30,40,50,60,70,80,90,100,110,120,130,140,150,160,170,180,190,200,210], "tickSize": -4, "labels": false, "domain": false, "title": null}},
  "detail": {"field": "s"}}},
{"mark": {"type": "line", "color": "#000", "strokeOpacity": 0, "clip": true},
 "encoding": {
  "x": {"field": "t", "type": "quantitative", "scale": {"domain": [0, 24], "nice": false, "zero": false}, "axis": {"orient": "top", "values": [0,2,4,6,8,10,12,14,16,18,20,22,24], "tickSize": -7, "labels": false, "title": null}},
  "y": {"field": "v", "type": "quantitative", "scale": {"domain": [5.5, 218], "nice": false, "zero": false}, "axis": {"orient": "right", "values": [50,100,150,200], "tickSize": -11, "labels": false, "title": "10 - 15 keV", "titleAngle": 270, "titleBaseline": "top", "titleFontSize": 22, "titlePadding": 3}},
  "detail": {"field": "s"}}},
{"mark": {"type": "line", "color": "#000", "strokeOpacity": 0, "clip": true},
 "encoding": {
  "x": {"field": "t", "type": "quantitative", "scale": {"domain": [0, 24], "nice": false, "zero": false}, "axis": {"orient": "top", "values": [0,0.5,1,1.5,2,2.5,3,3.5,4,4.5,5,5.5,6,6.5,7,7.5,8,8.5,9,9.5,10,10.5,11,11.5,12,12.5,13,13.5,14,14.5,15,15.5,16,16.5,17,17.5,18,18.5,19,19.5,20,20.5,21,21.5,22,22.5,23,23.5,24], "tickSize": -4, "labels": false, "domain": false, "title": null}},
  "y": {"field": "v", "type": "quantitative", "scale": {"domain": [5.5, 218], "nice": false, "zero": false}, "axis": {"orient": "right", "values": [10,20,30,40,50,60,70,80,90,100,110,120,130,140,150,160,170,180,190,200,210], "tickSize": -6, "labels": false, "domain": false, "title": null}},
  "detail": {"field": "s"}}}
]
}
]
}
